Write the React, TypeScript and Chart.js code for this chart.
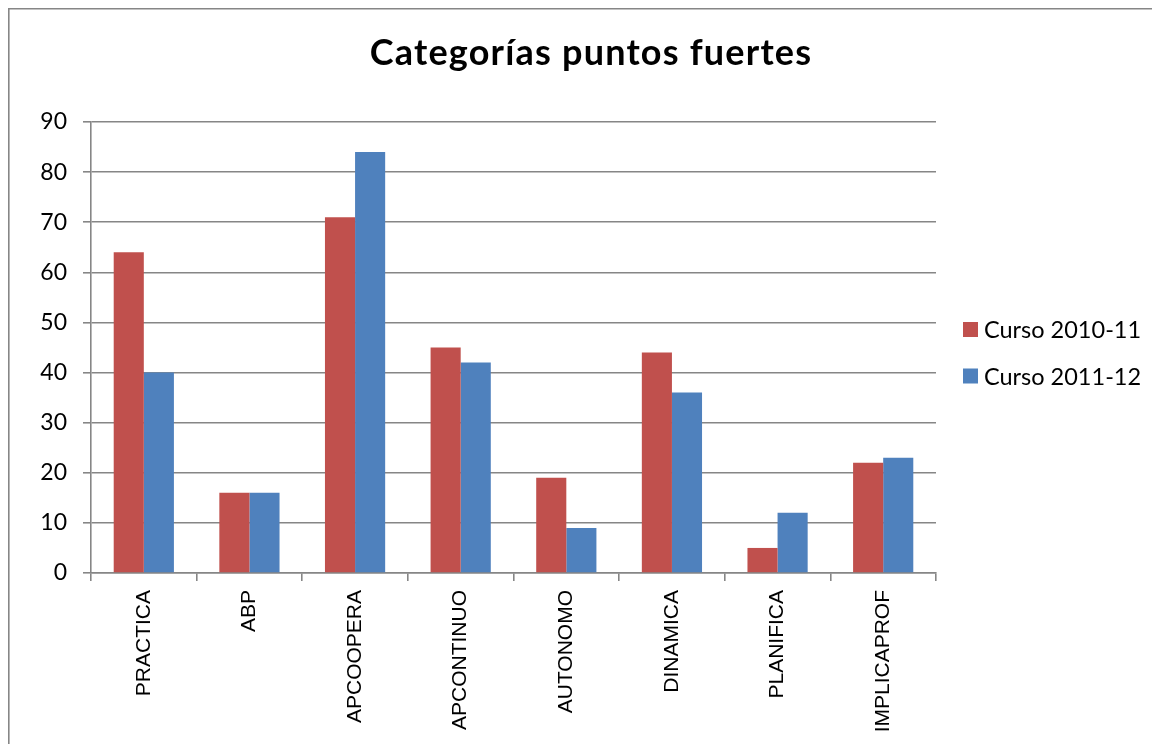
import React, { useEffect, useRef } from "react";
import { Chart, registerables } from "chart.js";

Chart.register(...registerables);

const categories = [
  "PRACTICA",
  "ABP",
  "APCOOPERA",
  "APCONTINUO",
  "AUTONOMO",
  "DINAMICA",
  "PLANIFICA",
  "IMPLICAPROF",
];
const curso201011 = [64, 16, 71, 45, 19, 44, 5, 22];
const curso201112 = [40, 16, 84, 42, 9, 36, 12, 23];
const seriesNames = ["Curso 2010-11", "Curso 2011-12"];
const seriesColors = ["#C0504D", "#4F81BD"];
const chartTitle = "Categorías puntos fuertes";

const W = 1152;
const H = 736;
const GRID = "#868686";

// Frame, title and legend drawn straight onto the canvas
const decorations = {
  id: "decorations",
  afterDraw(chart: Chart) {
    const ctx = chart.ctx as CanvasRenderingContext2D & { letterSpacing?: string };
    ctx.save();
    // outer frame (left and top edges are visible)
    ctx.strokeStyle = GRID;
    ctx.lineWidth = 1.6;
    ctx.beginPath();
    ctx.moveTo(0.8, H);
    ctx.lineTo(0.8, 0.8);
    ctx.lineTo(W, 0.8);
    ctx.stroke();

    // title
    ctx.fillStyle = "#000";
    ctx.font = "bold 36px Lato";
    ctx.letterSpacing = "1.2px";
    ctx.textAlign = "center";
    ctx.textBaseline = "alphabetic";
    ctx.fillText(chartTitle, 583, 57);
    ctx.letterSpacing = "0px";

    // legend
    ctx.font = "23.5px Lato";
    ctx.textAlign = "left";
    ctx.textBaseline = "middle";
    chart.data.datasets.forEach((ds, i) => {
      const y = 321.5 + i * 46.5;
      ctx.fillStyle = ds.backgroundColor as string;
      ctx.fillRect(955, y - 7.5, 15, 15);
      ctx.fillStyle = "#000";
      ctx.fillText(ds.label as string, 976, y + 1);
    });
    ctx.restore();
  },
};

export default function App() {
  const canvasRef = useRef<HTMLCanvasElement | null>(null);

  useEffect(() => {
    if (!canvasRef.current) return;
    const chart = new Chart(canvasRef.current, {
      type: "bar",
      data: {
        labels: categories,
        datasets: [
          {
            label: seriesNames[0],
            data: curso201011,
            backgroundColor: seriesColors[0],
            borderWidth: 0,
            categoryPercentage: 0.57,
            barPercentage: 1.0,
          },
          {
            label: seriesNames[1],
            data: curso201112,
            backgroundColor: seriesColors[1],
            borderWidth: 0,
            categoryPercentage: 0.57,
            barPercentage: 1.0,
          },
        ],
      },
      options: {
        responsive: false,
        animation: false,
        layout: { padding: { left: 0, right: 224, top: 114, bottom: 0 } },
        plugins: {
          legend: { display: false },
          title: { display: false },
          tooltip: { enabled: false },
        },
        scales: {
          x: {
            afterFit(scale: any) {
              scale.height = 171;
            },
            grid: {
              display: true,
              offset: true,
              drawOnChartArea: false,
              drawTicks: true,
              tickLength: 8,
              color: GRID,
              lineWidth: 1.6,
            },
            border: { display: true, color: GRID, width: 1.6 },
            ticks: {
              autoSkip: false,
              maxRotation: 90,
              minRotation: 90,
              padding: 9,
              color: "#000",
              font: { family: "'Liberation Sans', Arial, sans-serif", size: 21 },
            },
          },
          y: {
            min: 0,
            max: 90,
            afterFit(scale: any) {
              scale.width = 83;
            },
            ticks: {
              stepSize: 10,
              padding: 16,
              color: "#000",
              font: { family: "Lato", size: 23 },
            },
            grid: {
              color: GRID,
              lineWidth: 1.6,
              tickLength: 8,
              drawTicks: true,
            },
            border: { display: true, color: GRID, width: 1.6 },
          },
        },
      },
      plugins: [decorations],
    });
    return () => chart.destroy();
  }, []);

  return (
    <div style={{ width: W, height: H }}>
      <canvas ref={canvasRef} width={W} height={H} style={{ display: "block" }} />
    </div>
  );
}
